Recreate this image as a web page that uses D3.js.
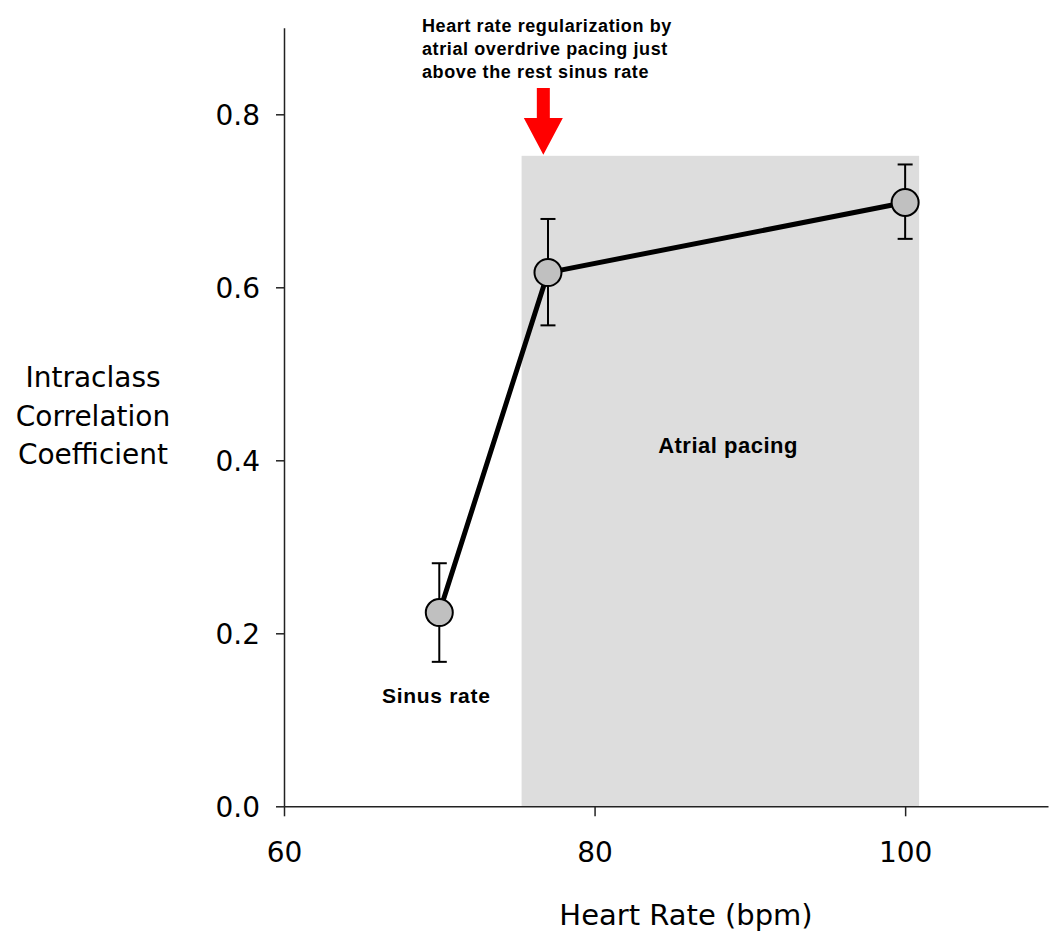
<!DOCTYPE html>
<html>
<head>
<meta charset="utf-8">
<script src="https://cdn.jsdelivr.net/npm/d3@7"></script>
<style>
  html, body { margin: 0; padding: 0; background: #fff; }
  svg { display: block; }
</style>
</head>
<body>
<svg id="chart" width="1052" height="931"></svg>
<script>
// Heart rate (bpm) for each condition
const heartRates = [70, 77, 100];
// Mean intraclass correlation coefficient
const iccMean = [0.224, 0.617, 0.698];
// Error bar bounds
const iccLow = [0.167, 0.556, 0.656];
const iccHigh = [0.281, 0.679, 0.742];

const xTicks = [60, 80, 100];
const yTicks = [0.0, 0.2, 0.4, 0.6, 0.8];

// Atrial pacing region (bpm range and height)
const pacingRange = [75.3, 100.9];
const pacingTop = 0.752;
const arrowRate = 76.7;

const svg = d3.select("#chart");

const x = d3.scaleLinear().domain([60, 109.2]).range([284, 1048]);
const y = d3.scaleLinear().domain([0, 0.9]).range([806.3, 27.8]);

const tickFont = "'DejaVu Sans', Verdana, sans-serif";
const boldFont = "'Liberation Sans', Arial, sans-serif";

// Shaded pacing band
svg.append("rect")
  .attr("x", x(pacingRange[0]))
  .attr("y", y(pacingTop))
  .attr("width", x(pacingRange[1]) - x(pacingRange[0]))
  .attr("height", y(0) - y(pacingTop))
  .attr("fill", "#dddddd");

// Axes
const xAxis = d3.axisBottom(x).tickValues(xTicks).tickSize(10).tickSizeOuter(0)
  .tickFormat(d3.format("d"));
const yAxis = d3.axisLeft(y).tickValues(yTicks).tickSize(8).tickSizeOuter(0)
  .tickFormat(d3.format(".1f"));

const gx = svg.append("g").attr("transform", `translate(0,${y(0)})`).call(xAxis);
const gy = svg.append("g").attr("transform", `translate(${x(60)},0)`).call(yAxis);

[gx, gy].forEach(g => {
  g.select(".domain").attr("stroke", "#222").attr("stroke-width", 1.5);
  g.selectAll(".tick line").attr("stroke", "#222").attr("stroke-width", 1.5);
  g.selectAll(".tick text")
    .attr("fill", "#000")
    .style("font-family", tickFont)
    .style("font-size", "28px");
});
gx.selectAll(".tick text").attr("y", 36).attr("dy", "0.71em");
gy.selectAll(".tick text").attr("x", -24).attr("dy", "0.36em");

// Axis titles
svg.append("text")
  .attr("x", 686).attr("y", 925)
  .attr("text-anchor", "middle")
  .style("font-family", tickFont).style("font-size", "29px")
  .text("Heart Rate (bpm)");

const yTitle = svg.append("text")
  .attr("text-anchor", "middle")
  .style("font-family", tickFont).style("font-size", "28px");
["Intraclass", "Correlation", "Coefficient"].forEach((t, i) => {
  yTitle.append("tspan").attr("x", 93).attr("y", 387 + i * 38.5).text(t);
});

// Connecting line
const line = d3.line().x((d, i) => x(heartRates[i])).y(d => y(d));
svg.append("path")
  .datum(iccMean)
  .attr("d", line)
  .attr("fill", "none")
  .attr("stroke", "#000")
  .attr("stroke-width", 5)
  .attr("stroke-linejoin", "round");

// Error bars
const eb = svg.append("g").attr("stroke", "#000").attr("stroke-width", 2);
heartRates.forEach((hr, i) => {
  const cx = x(hr);
  eb.append("line").attr("x1", cx).attr("x2", cx).attr("y1", y(iccLow[i])).attr("y2", y(iccHigh[i]));
  eb.append("line").attr("x1", cx - 7.5).attr("x2", cx + 7.5).attr("y1", y(iccLow[i])).attr("y2", y(iccLow[i]));
  eb.append("line").attr("x1", cx - 7.5).attr("x2", cx + 7.5).attr("y1", y(iccHigh[i])).attr("y2", y(iccHigh[i]));
});

// Markers
svg.append("g").selectAll("circle")
  .data(iccMean)
  .join("circle")
  .attr("cx", (d, i) => x(heartRates[i]))
  .attr("cy", d => y(d))
  .attr("r", 13.5)
  .attr("fill", "#c0c0c0")
  .attr("stroke", "#000")
  .attr("stroke-width", 2);

// Region labels
svg.append("text")
  .attr("x", x(heartRates[0]) - 3).attr("y", 703)
  .attr("text-anchor", "middle")
  .style("font-family", boldFont).style("font-weight", "bold")
  .style("font-size", "21px").style("letter-spacing", "0.7px")
  .text("Sinus rate");

svg.append("text")
  .attr("x", 728).attr("y", 453)
  .attr("text-anchor", "middle")
  .style("font-family", boldFont).style("font-weight", "bold")
  .style("font-size", "22px").style("letter-spacing", "0.5px")
  .text("Atrial pacing");

// Annotation text
const note = svg.append("text")
  .style("font-family", boldFont).style("font-weight", "bold")
  .style("font-size", "18px").style("letter-spacing", "0.6px");
["Heart rate regularization by", "atrial overdrive pacing just", "above the rest sinus rate"]
  .forEach((t, i) => {
    note.append("tspan").attr("x", 422).attr("y", 32 + i * 23).text(t);
  });

// Red arrow pointing to the start of pacing
const ax = x(arrowRate);
const tipY = y(pacingTop) - 1;
const arrowPts = [
  [ax - 6.5, 88], [ax + 6.5, 88], [ax + 6.5, 118], [ax + 19.5, 118],
  [ax, tipY], [ax - 19.5, 118], [ax - 6.5, 118]
];
svg.append("polygon")
  .attr("points", arrowPts.map(p => p.join(",")).join(" "))
  .attr("fill", "#ff0000");
</script>
</body>
</html>
